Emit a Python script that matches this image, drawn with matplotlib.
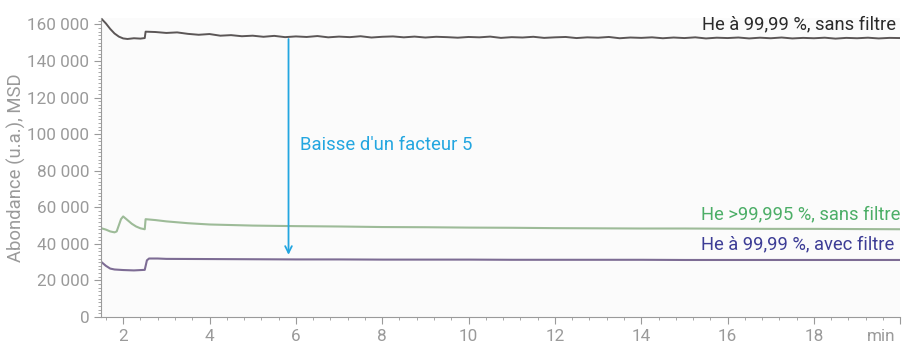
import matplotlib.pyplot as plt
from matplotlib.ticker import FuncFormatter, MultipleLocator

plt.rcParams['font.family'] = ['Roboto', 'DejaVu Sans']

# He 99.99 %, no filter (abundance, thousands)
t_black = [1.5, 1.6, 1.7, 1.8, 1.9, 2.0, 2.1, 2.25, 2.4, 2.5, 2.52,
           2.75, 3.0, 3.25, 3.5, 3.75, 4.0, 4.25, 4.5, 4.75, 5.0, 5.25, 5.5, 5.75,
           6.0, 6.25, 6.5, 6.75, 7.0, 7.25, 7.5, 7.75, 8.0, 8.25, 8.5, 8.75,
           9.0, 9.25, 9.5, 9.75, 10.0, 10.25, 10.5, 10.75, 11.0, 11.25, 11.5, 11.75,
           12.0, 12.25, 12.5, 12.75, 13.0, 13.25, 13.5, 13.75, 14.0, 14.25, 14.5, 14.75,
           15.0, 15.25, 15.5, 15.75, 16.0, 16.25, 16.5, 16.75, 17.0, 17.25, 17.5, 17.75,
           18.0, 18.25, 18.5, 18.75, 19.0, 19.25, 19.5, 19.75, 20.0]
v_black = [163.0, 160.5, 157.5, 155.0, 153.3, 152.3, 152.0, 152.4, 152.2, 152.5, 156.0,
           155.8, 155.3, 155.6, 154.8, 154.3, 154.7, 153.8, 154.1, 153.5, 153.8, 153.2, 153.7, 153.0,
           153.4, 153.1, 153.6, 152.9, 153.3, 153.0, 153.5, 152.8, 153.2, 153.4, 152.9, 153.3,
           152.8, 153.2, 153.0, 152.7, 153.1, 152.9, 153.3, 152.6, 153.0, 152.8, 153.2, 152.6,
           152.9, 153.1, 152.5, 152.9, 152.7, 153.1, 152.4, 152.8, 152.6, 152.9, 152.4, 152.8,
           152.5, 152.9, 152.3, 152.7, 152.5, 152.8, 152.3, 152.7, 152.4, 152.8, 152.3, 152.6,
           152.4, 152.7, 152.2, 152.6, 152.4, 152.7, 152.3, 152.6, 152.5]

# He >99.995 %, no filter
t_green = [1.5, 1.6, 1.7, 1.8, 1.85, 1.95, 2.0, 2.1, 2.2, 2.3, 2.4, 2.5, 2.52,
           2.75, 3.0, 3.5, 4.0, 5.0, 6.0, 7.0, 8.0, 9.0, 10.0, 11.0, 12.0,
           13.0, 14.0, 15.0, 16.0, 17.0, 18.0, 19.0, 20.0]
v_green = [48.5, 47.8, 46.8, 46.3, 46.8, 53.5, 55.0, 53.0, 51.0, 49.5, 48.5, 48.0, 53.5,
           53.0, 52.3, 51.3, 50.6, 50.0, 49.7, 49.5, 49.2, 49.1, 48.9, 48.8, 48.6,
           48.5, 48.4, 48.4, 48.3, 48.2, 48.2, 48.1, 48.0]

# He 99.99 %, with filter
t_purple = [1.5, 1.6, 1.7, 1.8, 2.0, 2.25, 2.5, 2.55, 2.6, 2.8, 3.0, 4.0, 5.0, 6.0,
            7.0, 8.0, 9.0, 10.0, 11.0, 12.0, 13.0, 14.0, 15.0, 16.0, 17.0, 18.0, 19.0, 20.0]
v_purple = [30.0, 28.0, 26.5, 26.0, 25.7, 25.5, 25.8, 31.0, 32.0, 32.0, 31.8, 31.7, 31.6, 31.5,
            31.5, 31.4, 31.4, 31.4, 31.3, 31.3, 31.3, 31.3, 31.2, 31.2, 31.2, 31.2, 31.2, 31.2]

labels = ["He à 99,99 %, sans filtre", "He >99,995 %, sans filtre", "He à 99,99 %, avec filtre"]

grey = '#9a9a9a'
fig = plt.figure(figsize=(9.03, 3.45), dpi=100)
ax = fig.add_axes([0.112, 0.081, 0.885, 0.867])
ax.set_facecolor('#fbfbfb')

ax.plot(t_black, [v * 1000 for v in v_black], color='#4a4444', lw=1.4, alpha=0.9)
ax.plot(t_green, [v * 1000 for v in v_green], color='#9dbb98', lw=1.5)
ax.plot(t_purple, [v * 1000 for v in v_purple], color='#7d6c94', lw=1.5)

ax.text(19.9, 160000, labels[0], color='#2b2b2b', fontsize=13.2, ha='right', va='center')
ax.text(20.0, 56400, labels[1], color='#4cae67', fontsize=13.2, ha='right', va='center')
ax.text(19.85, 39500, labels[2], color='#3d3d96', fontsize=13.2, ha='right', va='center')

ax.annotate('', xy=(5.83, 32500), xytext=(5.83, 153500),
            arrowprops=dict(arrowstyle='->', color='#23a6e0', lw=1.3, mutation_scale=12))
ax.text(6.1, 94300, "Baisse d'un facteur 5", color='#23a6e0', fontsize=13.3, va='center')

ax.set_xlim(1.49, 20.0)
ax.set_ylim(0, 163500)
ax.xaxis.set_major_locator(MultipleLocator(2))
ax.xaxis.set_minor_locator(MultipleLocator(0.4))
ax.yaxis.set_major_locator(MultipleLocator(20000))
ax.yaxis.set_minor_locator(MultipleLocator(2000))
ax.yaxis.set_major_formatter(FuncFormatter(lambda v, p: f"{int(v):,}".replace(",", " ")))
ax.xaxis.set_major_formatter(FuncFormatter(lambda v, p: f"{int(v)}" if v < 19 else ""))

for s in ['top', 'right']:
    ax.spines[s].set_visible(False)
for s in ['left', 'bottom']:
    ax.spines[s].set_color(grey)
ax.tick_params(which='both', colors=grey, labelsize=12.3)
ax.tick_params(which='major', length=5)
ax.tick_params(which='minor', length=2.5)
ax.set_ylabel("Abondance (u.a.), MSD", color=grey, fontsize=13.3, labelpad=1)
ax.annotate("min", xy=(19.55, 0), xycoords=('data', 'axes fraction'),
            xytext=(0, -8.5), textcoords='offset points',
            color=grey, fontsize=12.3, ha='center', va='top')

fig.savefig("out.png", dpi=100)
